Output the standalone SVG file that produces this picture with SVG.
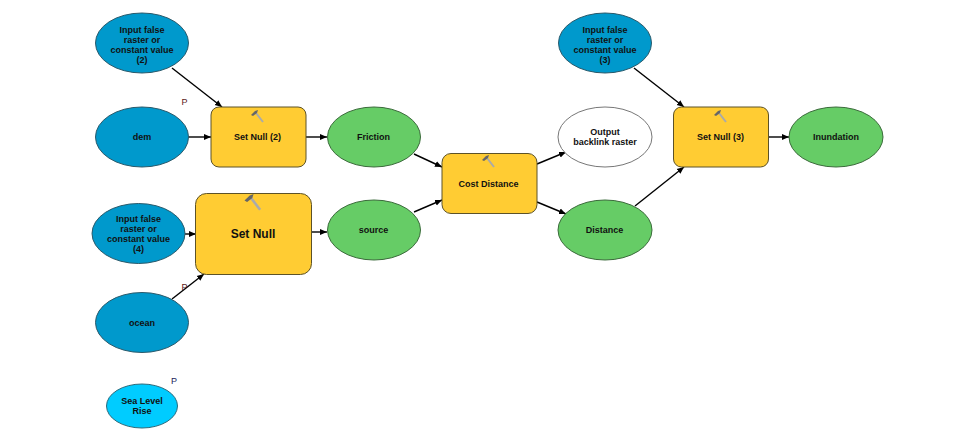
<svg xmlns="http://www.w3.org/2000/svg" width="974" height="443" viewBox="0 0 974 443">
<style>
text{font-family:"Liberation Sans",Arial,sans-serif;font-weight:700;font-size:9px;fill:#111;text-anchor:middle}
.blue{fill:#0099cc;stroke:#2b5a6b;stroke-width:1}
.green{fill:#66cc66;stroke:#3c6b3c;stroke-width:1}
.white{fill:#fff;stroke:#777;stroke-width:1}
.cyan{fill:#00ccff;stroke:#2b6a7b;stroke-width:1}
.tool{fill:#ffcc33;stroke:#5c5228;stroke-width:1}
.c{fill:none;stroke:#000;stroke-width:1.4;marker-end:url(#a)}
.p{font-size:9px;font-weight:400}
</style>
<defs>
<marker id="a" markerUnits="userSpaceOnUse" markerWidth="8" markerHeight="7" refX="7" refY="3.500" orient="auto"><path d="M0 0.500L7 3.500L0 6.500Z" fill="#000"/></marker>
<g id="h"><path d="M0 0L7 9" stroke="#aaa" stroke-width="2" fill="none"/><path d="M-5 2L-1 -2L2 -3L1 0L-3 3Z" fill="#666"/></g>
</defs>
<rect width="974" height="443" fill="#fff"/>
<g id="connectors">
<path class="c" d="M172 68L222 107"/>
<path class="c" d="M188 137H211"/>
<path class="c" d="M306 137H327"/>
<path class="c" d="M414 154L442 167"/>
<path class="c" d="M414 212L442 200"/>
<path class="c" d="M537 164L566 152"/>
<path class="c" d="M537 202L566 214"/>
<path class="c" d="M635 206L684 167"/>
<path class="c" d="M634 68L684 107"/>
<path class="c" d="M768 137H789"/>
<path class="c" d="M185 234H196"/>
<path class="c" d="M172 299L204 274"/>
<path class="c" d="M311 232H327"/>
</g>
<g id="input2"><ellipse class="blue" cx="142" cy="43" rx="46.500" ry="30"/><text x="142" y="33">Input false</text><text x="142" y="43">raster or</text><text x="142" y="53">constant value</text><text x="142" y="63">(2)</text></g>
<g id="dem"><ellipse class="blue" cx="142" cy="137" rx="46.500" ry="30"/><text x="142" y="140">dem</text><text class="p" x="184.500" y="105" style="fill:#5a1a1a">P</text></g>
<g id="setnull2"><rect class="tool" x="211" y="107" width="95" height="60" rx="8"/><text x="257.500" y="140">Set Null (2)</text><use href="#h" x="256" y="113"/></g>
<g id="friction"><ellipse class="green" cx="374" cy="137" rx="46.500" ry="30"/><text x="373.500" y="140">Friction</text></g>
<g id="input4"><ellipse class="blue" cx="138.500" cy="233.500" rx="46.500" ry="30"/><text x="138.500" y="222">Input false</text><text x="138.500" y="232">raster or</text><text x="138.500" y="242">constant value</text><text x="138.500" y="252">(4)</text></g>
<g id="setnull"><rect class="tool" x="195.500" y="193.500" width="116" height="81" rx="11"/><text x="253" y="238" style="font-size:12px">Set Null</text><use href="#h" transform="translate(251 198) scale(1.300)"/></g>
<g id="source"><ellipse class="green" cx="374" cy="230" rx="46.500" ry="30"/><text x="373.500" y="233">source</text></g>
<g id="ocean"><ellipse class="blue" cx="142" cy="322.500" rx="46.500" ry="30"/><text x="142" y="326">ocean</text><text class="p" x="184.500" y="290" style="fill:#5a1a1a">P</text></g>
<g id="sealevel"><ellipse class="cyan" cx="142" cy="406" rx="35.500" ry="22"/><text x="142" y="404">Sea Level</text><text x="142" y="414">Rise</text><text class="p" x="174" y="384" style="fill:#1a1a5a">P</text></g>
<g id="costdistance"><rect class="tool" x="442" y="153.500" width="95" height="60" rx="9"/><text x="488.500" y="186.500">Cost Distance</text><use href="#h" x="487" y="158"/></g>
<g id="output"><ellipse class="white" cx="605" cy="137" rx="47" ry="30"/><text x="605" y="135">Output</text><text x="605" y="145">backlink raster</text></g>
<g id="distance"><ellipse class="green" cx="605" cy="230" rx="47" ry="30"/><text x="604.500" y="233">Distance</text></g>
<g id="input3"><ellipse class="blue" cx="605" cy="43" rx="46.500" ry="30"/><text x="605" y="33">Input false</text><text x="605" y="43">raster or</text><text x="605" y="53">constant value</text><text x="605" y="63">(3)</text></g>
<g id="setnull3"><rect class="tool" x="673.500" y="107" width="95" height="60" rx="8"/><text x="720.500" y="140">Set Null (3)</text><use href="#h" x="719" y="113"/></g>
<g id="inundation"><ellipse class="green" cx="836" cy="137" rx="47" ry="30"/><text x="836" y="140">Inundation</text></g>
</svg>
